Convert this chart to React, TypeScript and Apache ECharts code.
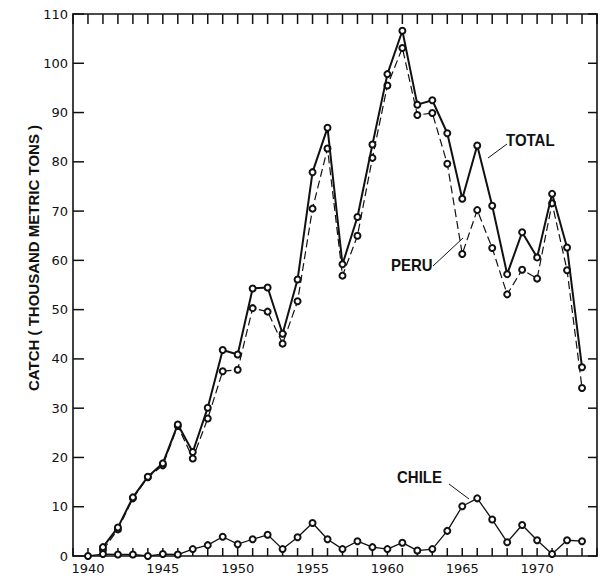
import React, { useEffect, useRef } from "react";
import * as echarts from "echarts";

const years = [1940,1941,1942,1943,1944,1945,1946,1947,1948,1949,1950,1951,1952,1953,1954,1955,1956,1957,1958,1959,1960,1961,1962,1963,1964,1965,1966,1967,1968,1969,1970,1971,1972,1973];
const total = [null,1.8,5.8,11.9,16.1,18.8,26.7,21.1,30.1,41.8,40.9,54.3,54.5,45.1,56.1,77.9,86.9,59.2,68.8,83.5,97.8,106.6,91.6,92.5,85.8,72.5,83.3,71.1,57.2,65.7,60.6,73.5,62.6,38.3];
const peru = [null,1.2,5.4,11.7,16.0,18.4,26.4,19.8,27.9,37.5,37.8,50.3,49.6,43.1,51.7,70.5,82.7,56.9,65.0,80.8,95.5,103.1,89.5,89.9,79.6,61.3,70.2,62.5,53.1,58.1,56.3,71.6,58.0,34.1];
const chile = [0,0.4,0.3,0.3,0,0.4,0.3,1.4,2.2,3.9,2.4,3.4,4.3,1.4,3.8,6.7,3.4,1.4,3.0,1.8,1.4,2.7,1.1,1.4,5.1,10.1,11.7,7.4,2.8,6.3,3.2,0.4,3.2,3.0];
const yearLabels = [1940,1945,1950,1955,1960,1965,1970];
const yTicks = [0,10,20,30,40,50,60,70,80,90,100,110];
const X_MIN = 1939;
const X_MAX = 1974;
const Y_MAX = 110;

const FONT = "DejaVu Sans";
const LFONT = "Liberation Sans";

export default function App() {
  const ref = useRef<HTMLDivElement>(null);
  useEffect(() => {
    if (!ref.current) return;
    const chart = echarts.init(ref.current, null, { renderer: "svg" });
    const pair = (arr: (number | null)[]) => years.map((y, i) => [y, arr[i]]);
    const mkLine = () => ({ show: true, onZero: false, lineStyle: { color: "#111", width: 1.6 } });
    const sym = {
      symbol: "emptyCircle", symbolSize: 6, showSymbol: true, showAllSymbol: true,
      itemStyle: { color: "#111", borderColor: "#111", borderWidth: 1.2 },
    };
    const xTickYears: number[] = [];
    for (let y = X_MIN; y <= X_MAX; y++) xTickYears.push(y);
    const tickLine = (x1: number, y1: number, x2: number, y2: number) => ({
      type: "line", shape: { x1, y1, x2, y2 }, style: { stroke: "#111", lineWidth: 1.5 },
    });
    chart.setOption({
      animation: false,
      backgroundColor: "#fff",
      grid: { left: 73, right: 4, top: 14, bottom: 23 },
      xAxis: [
        {
          type: "value", min: X_MIN, max: X_MAX, interval: 1, position: "bottom",
          axisLine: mkLine(), splitLine: { show: false }, axisTick: { show: false },
          axisLabel: {
            show: true, color: "#111", fontFamily: FONT, fontSize: 13, margin: 6,
            formatter: (v: number) => (yearLabels.includes(v) ? String(v) : ""),
          },
        },
        {
          type: "value", min: X_MIN, max: X_MAX, interval: 1, position: "top",
          axisLine: mkLine(), splitLine: { show: false }, axisTick: { show: false },
          axisLabel: { show: false },
        },
      ],
      yAxis: [
        {
          type: "value", min: 0, max: Y_MAX, interval: 10, position: "left",
          axisLine: mkLine(), splitLine: { show: false }, axisTick: { show: false },
          axisLabel: { color: "#111", fontFamily: FONT, fontSize: 13, margin: 5 },
        },
        {
          type: "value", min: 0, max: Y_MAX, interval: 10, position: "right",
          axisLine: mkLine(), splitLine: { show: false }, axisTick: { show: false },
          axisLabel: { show: false },
        },
      ],
      series: [
        {
          type: "custom", silent: true, z: 1, clip: false,
          data: xTickYears.map((y) => [y, 0]),
          renderItem: (_p: any, api: any) => {
            const b = api.coord([api.value(0), 0]);
            const t = api.coord([api.value(0), Y_MAX]);
            return {
              type: "group",
              children: [tickLine(b[0], b[1], b[0], b[1] - 8), tickLine(t[0], t[1], t[0], t[1] + 10)],
            };
          },
        },
        {
          type: "custom", silent: true, z: 1, clip: false,
          data: yTicks.map((v) => [X_MIN, v]),
          renderItem: (_p: any, api: any) => {
            const l = api.coord([X_MIN, api.value(1)]);
            const r = api.coord([X_MAX, api.value(1)]);
            return {
              type: "group",
              children: [tickLine(l[0], l[1], l[0] + 11, l[1]), tickLine(r[0], r[1], r[0] - 9, r[1])],
            };
          },
        },
        {
          name: "TOTAL", type: "line", data: pair(total), ...sym,
          lineStyle: { color: "#111", width: 2 },
          z: 4,
        },
        {
          name: "PERU", type: "line", data: pair(peru), ...sym,
          lineStyle: { color: "#111", width: 1.2, type: [8, 4] },
          z: 3,
        },
        {
          name: "CHILE", type: "line", data: pair(chile), ...sym,
          lineStyle: { color: "#111", width: 1.3 },
          z: 3,
        },
      ],
      graphic: [
        {
          type: "text", x: 33, y: 258, rotation: Math.PI / 2,
          style: {
            text: "CATCH ( THOUSAND METRIC TONS )", fill: "#111",
            font: `bold 15px "${LFONT}"`, align: "center", verticalAlign: "middle",
          },
        },
        { type: "text", x: 506, y: 140, scaleY: 1.15, style: { text: "TOTAL", fill: "#111", font: `bold 15px "${LFONT}"`, verticalAlign: "middle" } },
        { type: "line", shape: { x1: 507, y1: 144, x2: 488, y2: 158 }, style: { stroke: "#111", lineWidth: 1 } },
        { type: "text", x: 391, y: 265, scaleY: 1.15, style: { text: "PERU", fill: "#111", font: `bold 15px "${LFONT}"`, verticalAlign: "middle" } },
        { type: "line", shape: { x1: 433, y1: 266, x2: 463, y2: 238 }, style: { stroke: "#111", lineWidth: 1 } },
        { type: "text", x: 397, y: 477, scaleY: 1.15, style: { text: "CHILE", fill: "#111", font: `bold 15px "${LFONT}"`, verticalAlign: "middle" } },
        { type: "line", shape: { x1: 449, y1: 484, x2: 469, y2: 499 }, style: { stroke: "#111", lineWidth: 1 } },
      ],
    });
    return () => chart.dispose();
  }, []);
  return <div ref={ref} style={{ width: 601, height: 579, position: "absolute", left: 0, top: 0 }} />;
}
